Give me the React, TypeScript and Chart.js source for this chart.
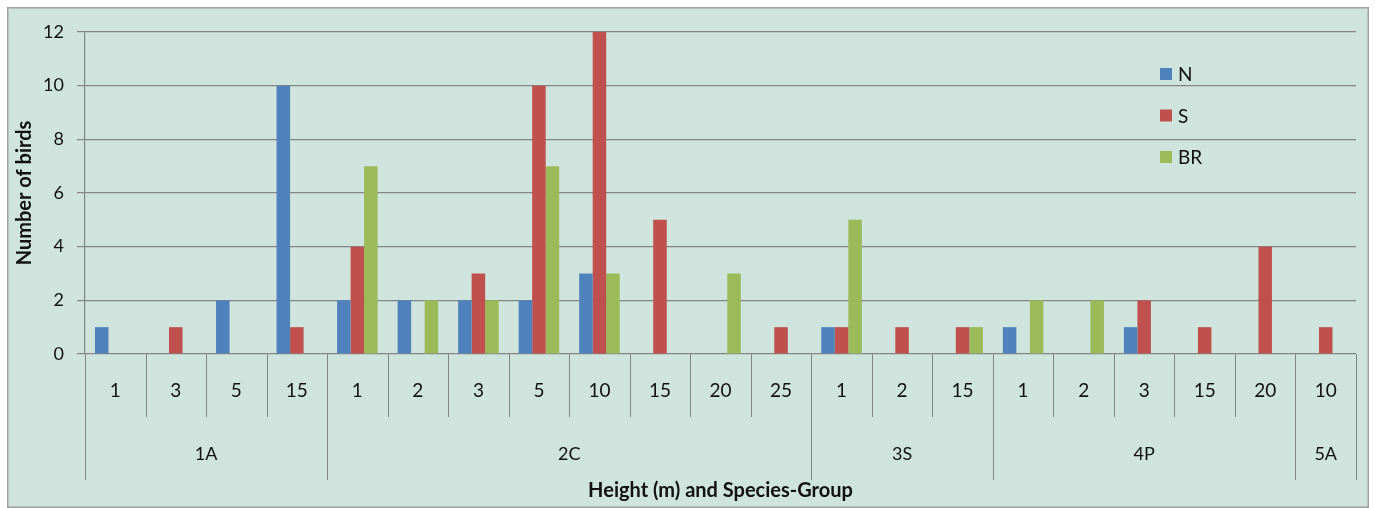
import React, { useEffect, useRef } from "react";
import { Chart, registerables } from "chart.js";

Chart.register(...registerables);

const groups = ["1A", "2C", "3S", "4P", "5A"];
const groupHeights = [
  ["1", "3", "5", "15"],
  ["1", "2", "3", "5", "10", "15", "20", "25"],
  ["1", "2", "15"],
  ["1", "2", "3", "15", "20"],
  ["10"],
];
const seriesNames = ["N", "S", "BR"];
const nValues = [1, null, 2, 10, 2, 2, 2, 2, 3, null, null, null, 1, null, null, 1, null, 1, null, null, null];
const sValues = [null, 1, null, 1, 4, null, 3, 10, 12, 5, null, 1, 1, 1, 1, null, null, 2, 1, 4, 1];
const brValues = [null, null, null, null, 7, 2, 2, 7, 3, null, 3, null, 5, null, 1, 2, 2, null, null, null, null];
const seriesColors = ["#4F81BD", "#C0504D", "#9BBB59"];
const yMax = 12;
const yStep = 2;
const xTitle = "Height (m) and Species-Group";
const yTitle = "Number of birds";

const FONT = "Lato, 'Noto Sans', sans-serif";
const BG = "#cee4dc";
const GRID = "#858585";

export default function App() {
  const ref = useRef<HTMLCanvasElement | null>(null);

  useEffect(() => {
    const canvas = ref.current;
    if (!canvas) return;
    const labels = groupHeights.flat();

    const decor = {
      id: "decor",
      beforeDraw(chart: any) {
        const c = chart.ctx;
        c.save();
        c.fillStyle = BG;
        c.fillRect(0, 0, chart.width, chart.height);
        c.strokeStyle = "#a0a0a0";
        c.lineWidth = 1.5;
        c.strokeRect(0.75, 0.75, chart.width - 1.5, chart.height - 1.5);
        c.restore();
      },
      afterDraw(chart: any) {
        const c = chart.ctx;
        const x = chart.scales.x;
        const area = chart.chartArea;
        const n = labels.length;
        const w = (area.right - area.left) / n;
        const bottom = area.bottom;
        c.save();
        c.strokeStyle = GRID;
        c.lineWidth = 1;
        const groupStarts: number[] = [];
        let acc = 0;
        groupHeights.forEach((g) => {
          groupStarts.push(acc);
          acc += g.length;
        });
        groupStarts.push(acc);
        for (let j = 0; j <= n; j++) {
          const px = j < n ? x.getPixelForTick(j) - w / 2 : x.getPixelForTick(n - 1) + w / 2;
          const isGroup = groupStarts.includes(j);
          const len = isGroup ? 126 : 63;
          const xx = Math.round(px) + 0.5;
          c.beginPath();
          c.moveTo(xx, bottom);
          c.lineTo(xx, bottom + len);
          c.stroke();
        }
        c.fillStyle = "#111";
        c.textAlign = "center";
        c.textBaseline = "middle";
        c.font = `19px ${FONT}`;
        labels.forEach((l, i) => {
          c.fillText(l, x.getPixelForTick(i), bottom + 37);
        });
        c.font = `18px ${FONT}`;
        groups.forEach((g, gi) => {
          const a = x.getPixelForTick(groupStarts[gi]) - w / 2;
          const b = x.getPixelForTick(groupStarts[gi + 1] - 1) + w / 2;
          c.fillText(g, (a + b) / 2, bottom + 100);
        });
        c.font = `bold 20px ${FONT}`;
        c.fillText(xTitle, (area.left + area.right) / 2, bottom + 137);
        c.save();
        c.translate(18, (area.top + area.bottom) / 2);
        c.rotate(-Math.PI / 2);
        c.fillText(yTitle, 0, 0);
        c.restore();
        c.font = `19px ${FONT}`;
        c.textAlign = "left";
        chart.data.datasets.forEach((ds: any, i: number) => {
          const cy = 67 + i * 41.5;
          c.fillStyle = ds.backgroundColor;
          c.fillRect(1153, cy - 6, 12, 12);
          c.fillStyle = "#111";
          c.fillText(ds.label, 1171, cy + 1);
        });
        c.restore();
      },
    };

    const chart = new Chart(canvas, {
      type: "bar",
      data: {
        labels,
        datasets: [nValues, sValues, brValues].map((vals, i) => ({
          label: seriesNames[i],
          data: vals,
          backgroundColor: seriesColors[i],
          borderWidth: 0,
          categoryPercentage: 0.67,
          barPercentage: 1,
        })),
      },
      options: {
        animation: false,
        responsive: false,
        layout: { padding: { left: 0, right: 13, top: 25, bottom: 154 } },
        plugins: { legend: { display: false }, tooltip: { enabled: false } },
        scales: {
          x: { display: false },
          y: {
            min: 0,
            max: yMax,
            afterFit: (s: any) => {
              s.width = 78;
            },
            ticks: {
              stepSize: yStep,
              color: "#111",
              font: { family: FONT, size: 18 },
              padding: 13,
            },
            grid: { color: GRID, lineWidth: 1.2, tickLength: 8 },
            border: { color: GRID, width: 1.2 },
          },
        },
      },
      plugins: [decor],
    });
    return () => chart.destroy();
  }, []);

  return (
    <div style={{ position: "absolute", left: 7, top: 7, width: 1362, height: 501 }}>
      <canvas ref={ref} width={1362} height={501} style={{ width: 1362, height: 501, display: "block" }} />
    </div>
  );
}
